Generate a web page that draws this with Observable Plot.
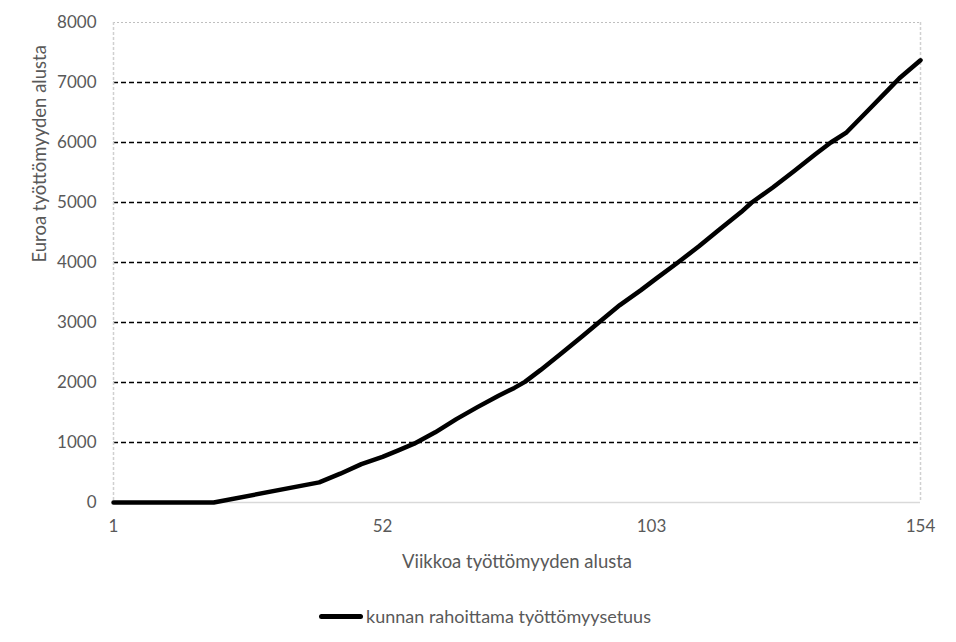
<!DOCTYPE html>
<html>
<head>
<meta charset="utf-8">
<script src="https://cdn.jsdelivr.net/npm/d3@7"></script>
<script src="https://cdn.jsdelivr.net/npm/@observablehq/plot@0.6"></script>
<style>
  body { margin: 0; background: #fff; font-family: Lato, "Open Sans", sans-serif; }
  #legend { width: 956px; height: 52px; display: flex; justify-content: center; align-items: center; color: #595959; font-size: 18px; font-family: Lato, sans-serif; padding-left: 14px; box-sizing: border-box; }
  #legend .sw { display: inline-block; width: 44px; height: 5px; background: #000; border-radius: 3px; margin-right: 3px; }
</style>
</head>
<body>
<div id="chart"></div>
<div id="legend"><span class="sw"></span><span id="legtext"></span></div>
<script>
const weeks  = [1, 20, 40, 44, 48, 52, 55, 58, 62, 66, 70, 74, 77, 79, 82, 86, 90, 93, 97, 101, 104, 108, 112, 116, 120, 122, 126, 130, 134, 137, 140, 144, 148, 150, 154];
const values = [0, 0, 335, 480, 640, 760, 870, 980, 1170, 1390, 1590, 1780, 1910, 2010, 2210, 2490, 2780, 3000, 3290, 3540, 3740, 4000, 4270, 4560, 4840, 5000, 5250, 5520, 5800, 6000, 6170, 6530, 6890, 7070, 7370];
const xTicks = [1, 52, 103, 154];
const yTicks = [0, 1000, 2000, 3000, 4000, 5000, 6000, 7000, 8000];
const dashedGrid = [1000, 2000, 3000, 4000, 5000, 6000, 7000];
const seriesName = "kunnan rahoittama työttömyysetuus";
const xLabel = "Viikkoa työttömyyden alusta";
const yLabel = "Euroa työttömyyden alusta";

const data = weeks.map((w, i) => ({week: w, value: values[i]}));
document.getElementById("legtext").textContent = seriesName;

const chart = Plot.plot({
  width: 956,
  height: 590,
  marginLeft: 113,
  marginRight: 36,
  marginTop: 22,
  marginBottom: 88,
  style: {fontFamily: "Lato, 'Open Sans', sans-serif", fontSize: "17px", color: "#595959", background: "#fff"},
  x: {domain: [1, 154]},
  y: {domain: [0, 8000]},
  marks: [
    Plot.ruleY(dashedGrid, {stroke: "#000", strokeWidth: 1.5, strokeDasharray: "5,3"}),
    Plot.ruleY([8000], {stroke: "#bfbfbf", strokeWidth: 1.2, strokeDasharray: "2,2"}),
    Plot.ruleX([1, 154], {stroke: "#d0d0d0", strokeWidth: 1.5, strokeDasharray: "3,2"}),
    Plot.ruleY([0], {stroke: "#d9d9d9", strokeWidth: 1.5}),
    Plot.line(data, {x: "week", y: "value", stroke: "#000", strokeWidth: 4.5, strokeLinejoin: "round"}),
    Plot.axisX({ticks: xTicks, tickFormat: d => String(d), tickSize: 0, tickPadding: 17, fontSize: 17, label: null}),
    Plot.axisY({ticks: yTicks, tickFormat: d => String(d), tickSize: 0, tickPadding: 17, fontSize: 17, label: null}),
    Plot.text([xLabel], {frameAnchor: "bottom", dy: 65, fontSize: 18.5, fill: "#595959"}),
    Plot.text([yLabel], {frameAnchor: "left", dx: -73, rotate: -90, fontSize: 18.5, fill: "#595959"})
  ]
});
chart.querySelectorAll("text").forEach(t => { t.setAttribute("fill", "#595959"); });
document.getElementById("chart").appendChild(chart);
</script>
</body>
</html>
